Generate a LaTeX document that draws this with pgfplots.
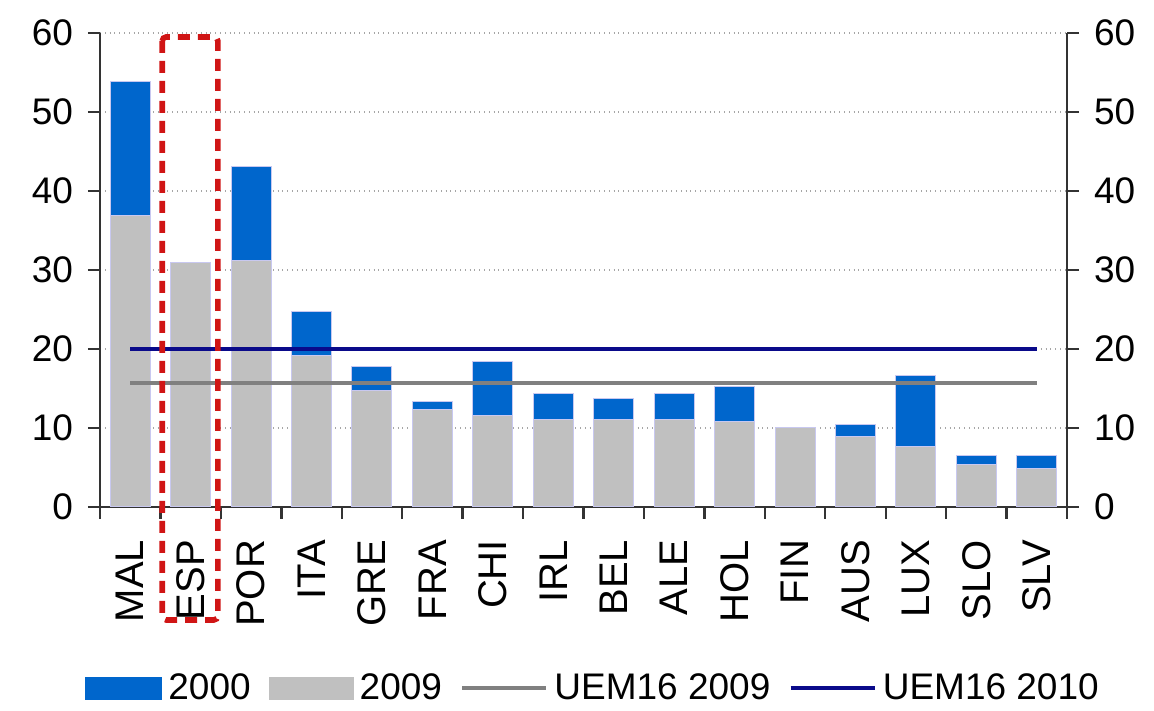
\documentclass[border=0pt]{standalone}
\usepackage{pgfplots}
\pgfplotsset{compat=1.18}
\usepackage{fontspec}
\setmainfont{Liberation Sans}
\definecolor{cA}{HTML}{0066CC}
\definecolor{cB}{HTML}{C0C0C0}
\definecolor{cL1}{HTML}{808080}
\definecolor{cL2}{HTML}{0A0A8A}
\definecolor{cRed}{HTML}{D01515}
\definecolor{cEdge}{HTML}{C8C8F0}
\newcommand{\tickfont}{\fontsize{18.5}{20}\selectfont}
\newcommand{\catfont}{\fontsize{20}{22}\selectfont}
\begin{document}
\begin{tikzpicture}
\path (-50pt,-98.5pt) rectangle (527pt,253.5pt);
\begin{axis}[
  scale only axis, width=483.5pt, height=237pt,
  xmin=-0.5, xmax=15.5, ymin=0, ymax=60,
  clip=false,
  axis x line*=bottom, axis y line*=left,
  axis line style={-, line width=1.2pt, black!80},
  every tick/.style={black!80, line width=1.2pt},
  tick align=outside, major tick length=6pt, minor tick length=6pt,
  ytick={0,10,...,60},
  yticklabel style={font=\tickfont, xshift=-4pt},
  /pgf/number format/assume math mode=true,
  ymajorgrids, grid style={dotted, black!35, line width=0.9pt},
  xtick={0,...,15},
  xticklabels={MAL,ESP,POR,ITA,GRE,FRA,CHI,IRL,BEL,ALE,HOL,FIN,AUS,LUX,SLO,SLV},
  major x tick style={draw=none},
  minor xtick={-0.5,0.5,...,15.5},
  minor x tick style={draw=black!80, line width=1.2pt},
  xticklabel style={font=\catfont, yshift=-7pt, rotate=90, anchor=east},
  legend style={at={(0.512,-0.382)}, anchor=center, draw=none, fill=none,
    font=\tickfont, legend columns=4,
    /tikz/every even column/.append style={column sep=6pt},
    nodes={inner xsep=3pt}},
]
\addplot[ybar, bar width=20pt, bar shift=0pt, fill=cA, draw=cEdge, line width=0.5pt,
  legend image code/.code={\fill[cA] (0pt,-5.5pt) rectangle (38pt,5.5pt);}]
  coordinates {(0,53.9) (1,30) (2,43.1) (3,24.8) (4,17.8) (5,13.3) (6,18.4) (7,14.4)
    (8,13.7) (9,14.4) (10,15.2) (11,9.5) (12,10.4) (13,16.7) (14,6.5) (15,6.5)};
\addlegendentry{2000}
\addplot[ybar, bar width=20pt, bar shift=0pt, fill=cB, draw=cEdge, line width=0.5pt,
  legend image code/.code={\fill[cB] (0pt,-5.5pt) rectangle (42pt,5.5pt);}]
  coordinates {(0,36.9) (1,31.0) (2,31.2) (3,19.2) (4,14.7) (5,12.3) (6,11.6) (7,11.1)
    (8,11.1) (9,11.1) (10,10.8) (11,10.0) (12,8.9) (13,7.6) (14,5.4) (15,4.9)};
\addlegendentry{2009}
\addplot[cL1, line width=2.2pt, mark=none,
  legend image code/.code={\draw[cL1, line width=2.2pt] (0pt,0pt) -- (42pt,0pt);}]
  coordinates {(0,15.7) (1,15.7) (2,15.7) (3,15.7) (4,15.7) (5,15.7) (6,15.7) (7,15.7)
    (8,15.7) (9,15.7) (10,15.7) (11,15.7) (12,15.7) (13,15.7) (14,15.7) (15,15.7)};
\addlegendentry{UEM16 2009}
\addplot[cL2, line width=2.2pt, mark=none,
  legend image code/.code={\draw[cL2, line width=2.2pt] (0pt,0pt) -- (42pt,0pt);}]
  coordinates {(0,20) (1,20) (2,20) (3,20) (4,20) (5,20) (6,20) (7,20)
    (8,20) (9,20) (10,20) (11,20) (12,20) (13,20) (14,20) (15,20)};
\addlegendentry{UEM16 2010}
\draw[cRed, line width=2.8pt, dash pattern=on 6pt off 4pt, rounded corners=2pt]
  (axis cs:0.53,59.5) rectangle (axis cs:1.45,-14.3);
\end{axis}
\begin{axis}[
  scale only axis, width=483.5pt, height=237pt,
  xmin=-0.5, xmax=15.5, ymin=0, ymax=60,
  axis x line=none, axis y line*=right,
  axis line style={-, line width=1.2pt, black!80},
  every tick/.style={black!80, line width=1.2pt},
  tick align=outside, major tick length=6pt,
  ytick={0,10,...,60},
  yticklabel style={font=\tickfont, xshift=4pt},
  /pgf/number format/assume math mode=true,
]
\end{axis}
\end{tikzpicture}
\end{document}
